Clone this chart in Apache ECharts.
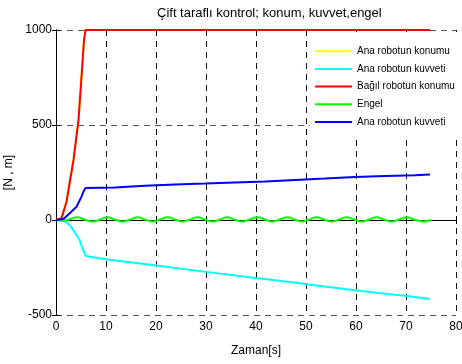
<!DOCTYPE html>
<html>
<head>
<meta charset="utf-8">
<script src="https://cdn.jsdelivr.net/npm/echarts@6/dist/echarts.min.js"></script>
<style>html,body{margin:0;padding:0;background:#fff;}#c{width:462px;height:364px;}</style>
</head>
<body>
<div id="c"></div>
<script>
var titleText = 'Çift taraflı kontrol; konum, kuvvet,engel';
var xName = 'Zaman[s]';
var yName = '[N , m]';
var seriesNames = ['Ana robotun konumu', 'Ana robotun kuvveti', 'Bağıl robotun konumu', 'Engel', 'Ana robotun kuvveti '];
var seriesColors = ['#ffff00', '#00ffff', '#ff0000', '#00ff00', '#0000ff'];

var yellowData = [[0,0],[1.1,10],[2.1,96],[3.5,316],[4.5,526],[5.1,754],[5.6,947],[5.9,1000],[74.8,1000]];
var cyanData = [[0,0],[1,-2],[2,-9],[3,-35],[4,-75],[4.7,-105],[5.3,-150],[5.9,-188],[6.5,-192],[10,-207],[20,-240],[30,-273],[40,-305],[48.8,-333],[50,-338],[59.8,-370],[65,-386],[69.8,-399],[74.8,-416]];
var redData = [[0,0],[1.1,10],[2.1,96],[3.5,316],[4.5,526],[5.1,754],[5.6,947],[5.9,1000],[74.8,1000]];
var greenData = [[0,0],[1.5,-3],[2.8,4],[4.2,14],[5.7,3],[7.3,-8],[8.8,3],[10.3,14],[11.8,3],[13.3,-8],[14.8,3],[16.3,14],[17.8,3],[19.3,-8],[20.8,3],[22.3,14],[23.8,3],[25.3,-8],[26.8,3],[28.3,14],[29.8,3],[31.3,-8],[32.8,3],[34.2,14],[35.7,3],[37.2,-8],[38.7,3],[40.3,14],[41.8,3],[43.2,-8],[44.7,3],[46.3,14],[47.7,3],[49.1,-8],[50.6,3],[52.1,14],[53.6,3],[55.1,-8],[56.6,3],[58.1,14],[59.6,3],[61.1,-8],[62.6,3],[64.1,14],[65.6,3],[67.1,-8],[68.6,3],[70.1,14],[71.6,3],[73.4,-8],[75,0]];
var blueData = [[0,0],[1.5,5],[2.8,37],[4.1,70],[5.1,123],[5.5,150],[5.9,168],[11.8,171],[12,175],[17.8,180],[18,184],[23.8,187],[24,190],[29.8,192],[30,195],[35.8,198],[36,201],[41.8,203],[42,206],[47.8,211],[48,214],[53.8,218],[54,222],[59.8,226],[60,229],[65.8,232],[66,234],[71.8,236],[72,239],[74.8,240]];

var xMin = 0, xMax = 80, xStep = 10;
var yMin = -500, yMax = 1000, yStep = 500;

var allData = [yellowData, cyanData, redData, greenData, blueData];
var font = 'Liberation Sans, Arial, sans-serif';

var chart = echarts.init(document.getElementById('c'), null, {renderer: 'canvas'});
var series = allData.map(function (d, i) {
  return {
    name: seriesNames[i],
    type: 'line',
    data: d,
    showSymbol: false,
    symbol: 'none',
    clip: false,
    smooth: i === 3 ? 0.5 : false,
    lineStyle: {color: seriesColors[i], width: 2},
    itemStyle: {color: seriesColors[i]},
    z: 3 + i,
    animation: false
  };
});

var plain = function (v) { return String(v); };
var axisLineStyle = {show: true, lineStyle: {color: '#000', width: 1}};
chart.setOption({
  animation: false,
  backgroundColor: '#fff',
  title: {
    text: titleText,
    left: 152, top: 2,
    textStyle: {fontFamily: font, fontSize: 13, fontWeight: 'normal', color: '#000'}
  },
  grid: {left: 56, right: 6, top: 30, bottom: 49, containLabel: false, outerBoundsMode: 'none'},
  legend: {
    orient: 'vertical',
    left: 310, top: 32,
    padding: [14, 12, 8, 5],
    backgroundColor: '#fff',
    itemWidth: 37, itemHeight: 2,
    itemGap: 7.3,
    icon: 'rect',
    data: seriesNames,
    textStyle: {fontFamily: font, fontSize: 10, color: '#000', lineHeight: 10.4},
    z: 20
  },
  xAxis: [{
    type: 'value', min: xMin, max: xMax, interval: xStep,
    name: xName, nameLocation: 'middle', nameGap: 30,
    nameTextStyle: {fontFamily: font, fontSize: 12, color: '#000'},
    axisLine: axisLineStyle,
    axisTick: {show: true, inside: true, length: 4, lineStyle: {color: '#000'}},
    axisLabel: {fontFamily: font, fontSize: 12, color: '#000', margin: 6, formatter: plain},
    splitLine: {show: true, lineStyle: {color: '#111', type: [6, 5], width: 1}}
  }, {
    type: 'value', min: xMin, max: xMax, interval: xStep, position: 'top',
    axisLine: axisLineStyle,
    axisTick: {show: true, inside: true, length: 4, lineStyle: {color: '#000'}},
    axisLabel: {show: false}, splitLine: {show: false}
  }],
  yAxis: [{
    type: 'value', min: yMin, max: yMax, interval: yStep,
    name: yName, nameLocation: 'middle', nameGap: 37,
    nameTextStyle: {fontFamily: font, fontSize: 12, color: '#000'},
    axisLine: axisLineStyle,
    axisTick: {show: true, inside: true, length: 4, lineStyle: {color: '#000'}},
    axisLabel: {fontFamily: font, fontSize: 12, color: '#000', margin: 4, formatter: plain},
    splitLine: {show: true, lineStyle: {color: '#555', type: [6, 5], width: 1}}
  }, {
    type: 'value', min: yMin, max: yMax, interval: yStep, position: 'right',
    axisLine: axisLineStyle,
    axisTick: {show: true, inside: true, length: 4, lineStyle: {color: '#000'}},
    axisLabel: {show: false}, splitLine: {show: false}
  }],
  series: series
});
</script>
</body>
</html>
